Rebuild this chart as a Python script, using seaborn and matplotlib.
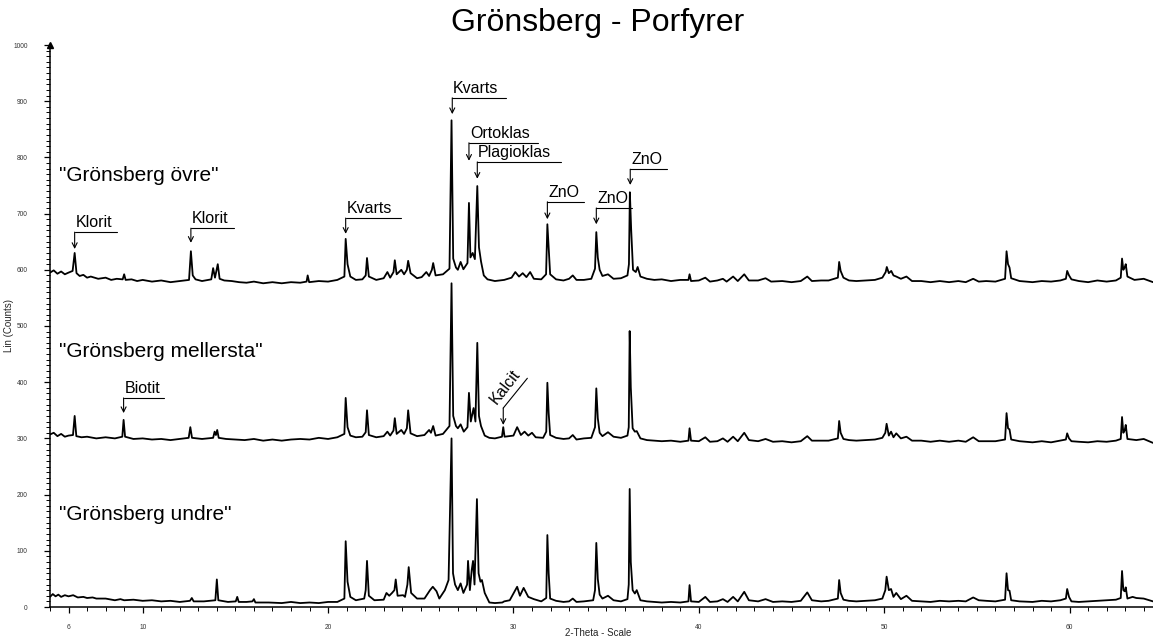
import matplotlib
matplotlib.use("Agg")
import numpy as np
import pandas as pd
import seaborn as sns
import matplotlib.pyplot as plt
from matplotlib.ticker import MultipleLocator

# ---------------- data (2-theta, counts) ----------------
ovre = [
    (5.0, 595), (5.2, 599), (5.4, 593), (5.6, 597), (5.8, 592), (6.0, 595), (6.22, 598), (6.33, 630),
    (6.43, 594), (6.6, 589), (6.8, 591), (7.0, 586), (7.2, 588), (7.6, 584), (8.0, 586), (8.3, 582),
    (8.6, 584), (8.92, 583), (9.0, 592), (9.08, 582), (9.4, 583), (9.7, 580), (10.0, 582), (10.5, 579),
    (11.0, 581), (11.5, 578), (12.0, 580), (12.5, 582), (12.6, 633), (12.7, 590), (12.85, 583),
    (13.2, 580), (13.7, 583), (13.8, 603), (13.9, 586), (14.05, 610), (14.15, 584), (14.4, 581),
    (14.8, 580), (15.2, 578), (15.6, 577), (16.0, 579), (16.5, 576), (17.0, 578), (17.5, 576),
    (18.0, 578), (18.5, 577), (18.84, 579), (18.9, 590), (18.98, 578), (19.5, 580), (20.0, 579),
    (20.5, 582), (20.88, 588), (20.95, 655), (21.05, 610), (21.2, 588), (21.5, 582), (21.85, 583),
    (22.03, 590), (22.1, 621), (22.2, 588), (22.6, 582), (23.0, 585), (23.2, 596), (23.35, 586),
    (23.53, 596), (23.6, 617), (23.7, 592), (23.95, 600), (24.1, 592), (24.25, 600), (24.32, 616),
    (24.45, 594), (24.8, 585), (25.05, 587), (25.3, 596), (25.45, 589), (25.6, 600), (25.67, 612),
    (25.8, 590), (26.2, 592), (26.55, 602), (26.66, 866), (26.75, 620), (26.9, 604), (27.0, 600),
    (27.15, 614), (27.3, 601), (27.52, 612), (27.6, 719), (27.68, 622), (27.8, 630), (27.92, 619),
    (28.05, 749), (28.14, 640), (28.25, 615), (28.4, 590), (28.6, 583), (29.0, 580), (29.5, 582),
    (29.9, 586), (30.1, 596), (30.3, 588), (30.5, 594), (30.7, 587), (30.9, 596), (31.1, 584),
    (31.5, 583), (31.76, 592), (31.83, 681), (31.9, 640), (31.98, 592), (32.3, 583), (32.7, 581),
    (33.0, 584), (33.2, 590), (33.4, 582), (33.8, 582), (34.2, 584), (34.4, 602), (34.47, 667),
    (34.55, 622), (34.65, 600), (34.8, 589), (35.1, 592), (35.4, 584), (35.8, 585), (36.15, 590),
    (36.23, 610), (36.28, 738), (36.35, 672), (36.45, 600), (36.6, 596), (36.7, 605), (36.85, 588),
    (37.2, 584), (37.6, 582), (38.0, 583), (38.5, 580), (39.0, 582), (39.44, 582), (39.5, 592),
    (39.58, 580), (40.0, 581), (40.35, 586), (40.6, 579), (41.0, 581), (41.3, 584), (41.5, 579),
    (41.85, 588), (42.1, 580), (42.45, 592), (42.7, 581), (43.2, 581), (43.6, 585), (43.9, 579),
    (44.5, 580), (45.0, 578), (45.5, 580), (45.85, 588), (46.1, 580), (46.6, 581), (47.0, 581),
    (47.5, 586), (47.57, 614), (47.65, 598), (47.8, 586), (48.1, 581), (48.5, 580), (49.0, 581),
    (49.5, 582), (49.9, 586), (50.08, 596), (50.14, 605), (50.25, 594), (50.38, 598), (50.5, 590),
    (50.65, 588), (50.9, 584), (51.2, 588), (51.5, 580), (52.0, 580), (52.5, 578), (53.0, 580),
    (53.5, 578), (54.0, 580), (54.4, 578), (54.8, 584), (55.1, 579), (55.5, 580), (56.0, 579),
    (56.52, 584), (56.6, 633), (56.68, 610), (56.76, 604), (56.85, 585), (57.3, 580), (58.0, 578),
    (58.5, 580), (59.0, 579), (59.5, 581), (59.8, 584), (59.87, 598), (59.97, 590), (60.1, 583),
    (60.5, 580), (61.0, 578), (61.5, 581), (62.0, 579), (62.5, 581), (62.76, 586), (62.83, 620),
    (62.9, 600), (62.97, 604), (63.03, 610), (63.12, 588), (63.5, 582), (64.0, 584), (64.5, 578),
]

mellersta = [
    (5.0, 307), (5.2, 310), (5.4, 304), (5.6, 308), (5.8, 303), (6.0, 305), (6.24, 306), (6.33, 340),
    (6.42, 304), (6.7, 302), (7.0, 303), (7.5, 300), (8.0, 302), (8.5, 300), (8.9, 303), (8.97, 333),
    (9.05, 303), (9.5, 299), (10.0, 300), (10.5, 298), (11.0, 299), (11.5, 297), (12.0, 299),
    (12.48, 301), (12.57, 320), (12.66, 301), (13.2, 299), (13.8, 301), (13.88, 312), (13.95, 306),
    (14.02, 315), (14.1, 301), (14.5, 299), (15.0, 298), (15.5, 297), (16.0, 299), (16.5, 296),
    (17.0, 298), (17.5, 296), (18.0, 298), (18.5, 299), (19.0, 298), (19.5, 301), (20.0, 299),
    (20.5, 302), (20.88, 308), (20.95, 372), (21.05, 320), (21.2, 305), (21.5, 302), (21.85, 303),
    (22.03, 311), (22.1, 350), (22.2, 306), (22.6, 302), (23.0, 304), (23.2, 312), (23.35, 305),
    (23.53, 314), (23.6, 336), (23.7, 308), (23.95, 315), (24.1, 308), (24.25, 318), (24.32, 350),
    (24.45, 309), (24.8, 304), (25.2, 306), (25.45, 315), (25.55, 310), (25.67, 322), (25.8, 305),
    (26.2, 308), (26.55, 322), (26.66, 576), (26.75, 340), (26.9, 322), (27.0, 318), (27.15, 325),
    (27.32, 312), (27.52, 320), (27.6, 381), (27.7, 330), (27.85, 354), (27.95, 330), (28.05, 470),
    (28.14, 340), (28.25, 322), (28.45, 305), (28.7, 301), (29.0, 300), (29.38, 303), (29.45, 320),
    (29.52, 303), (30.0, 305), (30.2, 320), (30.4, 306), (30.6, 312), (30.8, 305), (31.0, 310),
    (31.2, 302), (31.6, 301), (31.77, 312), (31.83, 399), (31.9, 345), (31.98, 306), (32.3, 301),
    (32.7, 299), (33.0, 300), (33.2, 306), (33.4, 298), (33.8, 300), (34.2, 301), (34.4, 320),
    (34.47, 389), (34.55, 336), (34.65, 310), (34.8, 304), (35.1, 311), (35.4, 303), (35.8, 301),
    (36.15, 305), (36.22, 320), (36.27, 491), (36.33, 391), (36.43, 318), (36.55, 312), (36.65, 313),
    (36.85, 300), (37.2, 297), (37.6, 296), (38.0, 295), (38.5, 296), (39.0, 294), (39.44, 296),
    (39.5, 318), (39.58, 296), (40.0, 295), (40.35, 302), (40.6, 294), (41.0, 295), (41.3, 300),
    (41.55, 294), (41.85, 303), (42.1, 295), (42.45, 310), (42.7, 297), (43.2, 295), (43.6, 299),
    (44.0, 294), (44.5, 295), (45.0, 293), (45.5, 295), (45.85, 304), (46.1, 296), (46.6, 296),
    (47.0, 296), (47.5, 300), (47.57, 331), (47.65, 310), (47.8, 299), (48.1, 297), (48.5, 296),
    (49.0, 297), (49.5, 298), (49.9, 301), (50.06, 310), (50.13, 326), (50.25, 305), (50.37, 312),
    (50.5, 302), (50.65, 309), (50.9, 300), (51.2, 303), (51.5, 296), (52.0, 296), (52.5, 294),
    (53.0, 296), (53.5, 294), (54.0, 296), (54.4, 294), (54.8, 302), (55.1, 295), (55.5, 295),
    (56.0, 295), (56.52, 298), (56.6, 345), (56.68, 318), (56.76, 316), (56.85, 298), (57.3, 295),
    (58.0, 293), (58.5, 295), (59.0, 293), (59.5, 296), (59.8, 298), (59.87, 309), (59.97, 300),
    (60.1, 295), (60.5, 294), (61.0, 293), (61.5, 295), (62.0, 294), (62.5, 296), (62.76, 299),
    (62.83, 338), (62.9, 310), (62.97, 314), (63.03, 324), (63.12, 299), (63.6, 297), (64.0, 299),
    (64.5, 292),
]

undre = [
    (5.0, 18), (5.15, 23), (5.3, 19), (5.45, 22), (5.6, 18), (5.8, 21), (6.0, 19), (6.25, 21),
    (6.5, 17), (6.8, 18), (7.0, 16), (7.3, 17), (7.5, 15), (8.0, 15), (8.5, 12), (8.8, 14), (9.0, 12),
    (9.5, 13), (10.0, 11), (10.5, 12), (11.0, 10), (11.5, 11), (12.0, 9), (12.55, 11), (12.65, 16),
    (12.75, 10), (13.3, 10), (13.92, 12), (14.0, 49), (14.08, 12), (14.6, 9), (15.02, 10), (15.1, 18),
    (15.18, 9), (15.6, 9), (15.92, 10), (16.0, 14), (16.08, 8), (16.8, 8), (17.5, 7), (18.0, 9),
    (18.5, 7), (19.0, 8), (19.5, 7), (20.0, 9), (20.5, 9), (20.88, 15), (20.95, 117), (21.05, 45),
    (21.2, 18), (21.5, 12), (21.95, 15), (22.03, 30), (22.1, 82), (22.2, 20), (22.5, 12), (23.0, 13),
    (23.15, 25), (23.3, 20), (23.45, 25), (23.58, 30), (23.65, 49), (23.75, 20), (24.05, 21),
    (24.15, 18), (24.28, 40), (24.35, 71), (24.48, 25), (24.8, 15), (25.2, 15), (25.5, 30),
    (25.65, 36), (25.85, 28), (26.0, 15), (26.3, 30), (26.5, 48), (26.66, 300), (26.74, 60),
    (26.85, 40), (27.0, 30), (27.15, 42), (27.3, 25), (27.5, 40), (27.55, 82), (27.65, 30),
    (27.75, 66), (27.82, 82), (27.9, 40), (28.03, 192), (28.12, 60), (28.22, 45), (28.3, 48),
    (28.45, 25), (28.7, 8), (29.0, 7), (29.4, 8), (29.5, 10), (29.8, 12), (30.2, 36), (30.35, 20),
    (30.55, 34), (30.8, 18), (31.1, 14), (31.5, 10), (31.77, 16), (31.83, 128), (31.9, 60),
    (31.98, 15), (32.3, 11), (32.7, 9), (33.0, 10), (33.2, 15), (33.4, 9), (33.8, 10), (34.3, 12),
    (34.4, 30), (34.47, 114), (34.55, 50), (34.65, 22), (34.8, 15), (35.1, 20), (35.4, 12),
    (35.8, 10), (36.15, 14), (36.22, 40), (36.27, 210), (36.33, 80), (36.43, 30), (36.55, 24),
    (36.65, 30), (36.85, 12), (37.2, 10), (37.6, 9), (38.0, 8), (38.5, 9), (39.0, 8), (39.44, 10),
    (39.5, 39), (39.58, 10), (40.0, 9), (40.35, 18), (40.6, 9), (41.0, 10), (41.3, 14), (41.55, 9),
    (41.85, 18), (42.1, 10), (42.45, 27), (42.7, 12), (43.2, 10), (43.6, 14), (44.0, 9), (44.5, 10),
    (45.0, 9), (45.5, 11), (45.85, 26), (46.1, 12), (46.6, 10), (47.0, 11), (47.5, 15), (47.57, 48),
    (47.65, 25), (47.8, 13), (48.1, 11), (48.5, 10), (49.0, 11), (49.5, 12), (49.9, 15), (50.06, 30),
    (50.13, 54), (50.25, 30), (50.37, 32), (50.5, 18), (50.65, 25), (50.9, 14), (51.2, 20),
    (51.5, 11), (52.0, 10), (52.5, 9), (53.0, 11), (53.5, 10), (54.0, 11), (54.4, 10), (54.8, 17),
    (55.1, 12), (55.5, 11), (56.0, 10), (56.52, 13), (56.6, 60), (56.68, 30), (56.76, 29),
    (56.85, 12), (57.3, 10), (58.0, 9), (58.5, 11), (59.0, 10), (59.5, 12), (59.8, 15), (59.87, 32),
    (59.97, 18), (60.1, 10), (60.5, 9), (61.0, 10), (61.5, 11), (62.0, 12), (62.5, 13), (62.76, 16),
    (62.83, 64), (62.9, 30), (62.97, 28), (63.03, 35), (63.12, 15), (63.4, 18), (63.6, 16),
    (64.0, 15), (64.5, 10),
]

sample_names = ['"Grönsberg övre"', '"Grönsberg mellersta"', '"Grönsberg undre"']
sample_label_y = [767, 454, 164]

# peak annotations
peak_labels = ["Klorit", "Klorit", "Kvarts", "Kvarts", "Ortoklas", "Plagioklas", "ZnO", "ZnO", "ZnO", "Biotit"]
peak_x = [6.33, 12.6, 20.95, 26.7, 27.6, 28.05, 31.83, 34.47, 36.3, 8.97]
peak_line_y = [667, 674, 692, 906, 826, 792, 721, 710, 779, 372]
peak_tip_y = [637, 648, 664, 877, 794, 762, 690, 681, 751, 345]
peak_line_len = [2.3, 2.3, 3.0, 2.9, 3.7, 4.5, 1.95, 1.95, 2.0, 2.2]

# ---------------- plotting ----------------
sns.set_theme(style="white")
plt.rcParams["font.family"] = ["Liberation Sans", "DejaVu Sans"]

fig = plt.figure(figsize=(11.53, 6.38), dpi=100)
ax = fig.add_axes([50 / 1153, 31 / 638, 1 - 50 / 1153, 562 / 638])

for name, trace in zip(sample_names, [ovre, mellersta, undre]):
    df = pd.DataFrame(trace, columns=["two_theta", "counts"])
    sns.lineplot(data=df, x="two_theta", y="counts", ax=ax, color="black",
                 linewidth=1.3, estimator=None, sort=False)

ax.set_xlim(5.0, 64.5)
ax.set_ylim(0, 1000)

for s in ["top", "right"]:
    ax.spines[s].set_visible(False)
for s in ["left", "bottom"]:
    ax.spines[s].set_color("black")
    ax.spines[s].set_linewidth(1.1)

ax.set_xticks([6, 10, 20, 30, 40, 50, 60])
ax.xaxis.set_minor_locator(MultipleLocator(1))
ax.set_yticks(range(0, 1001, 100))
ax.yaxis.set_minor_locator(MultipleLocator(10))
ax.tick_params(axis="both", which="major", direction="out", length=4, width=0.9,
               color="black", labelsize=4.8, labelcolor="#333333",
               bottom=True, left=True)
ax.tick_params(axis="both", which="minor", direction="out", length=3, width=0.7,
               color="black", bottom=True, left=True)
ax.tick_params(axis="x", which="major", pad=8)
ax.tick_params(axis="y", which="major", pad=12)

# arrow at top of y axis
ax.plot([5.0], [1000], marker="^", color="black", markersize=4, clip_on=False)

ax.set_xlabel("2-Theta - Scale", fontsize=7)
ax.set_ylabel("Lin (Counts)", fontsize=7)
ax.xaxis.set_label_coords(0.497, -0.037)
ax.yaxis.set_label_coords(-0.033, 0.5)

fig.text(598 / 1153, 1 - 23 / 638, "Grönsberg - Porfyrer", fontsize=23,
         ha="center", va="center", color="black")

for name, yy in zip(sample_names, sample_label_y):
    ax.text(5.5, yy, name, fontsize=15, ha="left", va="center", color="black")

for lab, x, yl, yt, ln in zip(peak_labels, peak_x, peak_line_y, peak_tip_y, peak_line_len):
    ax.plot([x, x + ln], [yl, yl], color="black", linewidth=0.8)
    ax.annotate("", xy=(x, yt), xytext=(x, yl),
                arrowprops=dict(arrowstyle="->", color="black", lw=0.8,
                                mutation_scale=9, shrinkA=0, shrinkB=0))
    ax.text(x + 0.05, yl + 4, lab, fontsize=11.5, ha="left", va="bottom", color="black")

# Kalcit (rotated label)
kalcit_x, kalcit_tip, kalcit_knee = 29.45, 324, 354
ax.annotate("", xy=(kalcit_x, kalcit_tip), xytext=(kalcit_x, kalcit_knee),
            arrowprops=dict(arrowstyle="->", color="black", lw=0.8,
                            mutation_scale=9, shrinkA=0, shrinkB=0))
ax.plot([kalcit_x, 30.75], [kalcit_knee, 407], color="black", linewidth=0.8)
ax.text(29.54, 391, "Kalcit", fontsize=11.5, rotation=52, rotation_mode="anchor",
        ha="center", va="center", color="black")

fig.savefig("out.png", dpi=100)
